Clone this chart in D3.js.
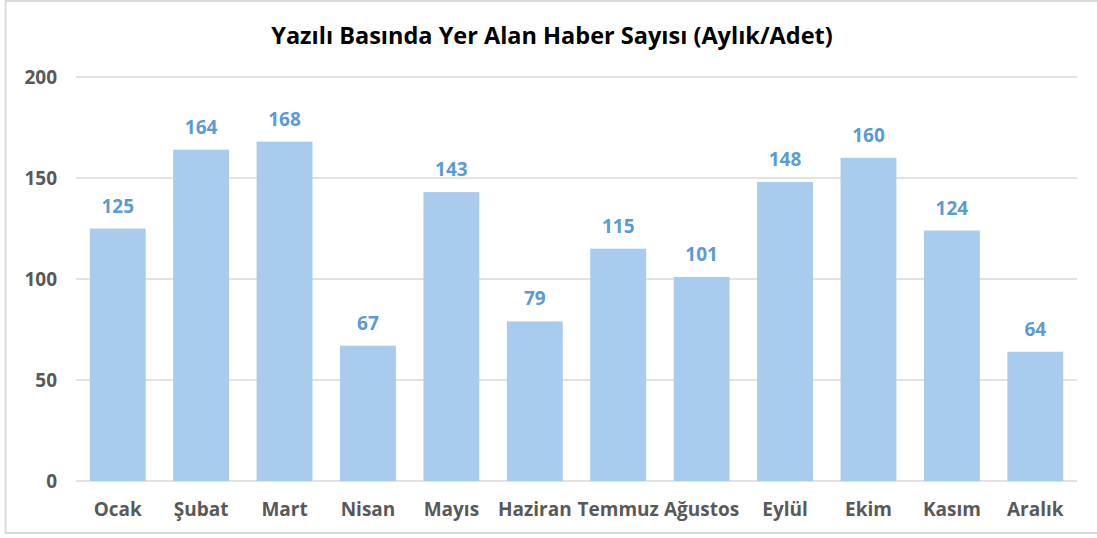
<!DOCTYPE html>
<html>
<head>
<meta charset="utf-8">
<script src="https://cdn.jsdelivr.net/npm/d3@7"></script>
<style>
  body { margin: 0; background: #fff; }
  svg { font-family: "Open Sans", "Noto Sans", sans-serif; }
</style>
</head>
<body>
<script>
var months = ["Ocak", "Şubat", "Mart", "Nisan", "Mayıs", "Haziran", "Temmuz", "Ağustos", "Eylül", "Ekim", "Kasım", "Aralık"];
var counts = [125, 164, 168, 67, 143, 79, 115, 101, 148, 160, 124, 64];
var yTicks = [0, 50, 100, 150, 200];

var width = 1097, height = 538;
var margin = { left: 76, right: 20, top: 77, bottom: 57 };

var svg = d3.select("body").append("svg")
    .attr("width", width)
    .attr("height", height);

// chart frame
svg.append("rect")
    .attr("x", 5.5).attr("y", 1)
    .attr("width", 1100).attr("height", 532)
    .attr("fill", "#fff")
    .attr("stroke", "#d9d9d9")
    .attr("stroke-width", 2);

var x = d3.scaleBand()
    .domain(months)
    .range([margin.left, width - margin.right])
    .paddingInner(0.33)
    .paddingOuter(0.165);

var y = d3.scaleLinear()
    .domain([0, 200])
    .range([height - margin.bottom, margin.top]);

// gridlines
svg.append("g")
    .selectAll("line")
    .data(yTicks)
    .enter().append("line")
    .attr("x1", margin.left)
    .attr("x2", width - margin.right)
    .attr("y1", d => y(d))
    .attr("y2", d => y(d))
    .attr("stroke", "#d9d9d9")
    .attr("stroke-width", 1.5);

// y axis labels
var yAxis = svg.append("g")
    .attr("transform", "translate(" + (margin.left - 19) + ",0)")
    .call(d3.axisLeft(y).tickValues(yTicks).tickSize(0).tickPadding(0));
yAxis.select(".domain").remove();
yAxis.selectAll("text")
    .attr("fill", "#595959")
    .attr("font-size", 19)
    .attr("font-weight", "bold")
    .attr("font-family", "'Open Sans', sans-serif");

// x axis labels
var xAxis = svg.append("g")
    .attr("transform", "translate(0," + (y(0) + 21) + ")")
    .call(d3.axisBottom(x).tickSize(0).tickPadding(0));
xAxis.select(".domain").remove();
xAxis.selectAll("text")
    .attr("fill", "#595959")
    .attr("font-size", 19)
    .attr("font-weight", "bold")
    .attr("font-family", "'Open Sans', sans-serif");

// bars
svg.append("g")
    .selectAll("rect")
    .data(counts)
    .enter().append("rect")
    .attr("x", (d, i) => x(months[i]))
    .attr("width", x.bandwidth())
    .attr("y", d => y(d))
    .attr("height", d => y(0) - y(d))
    .attr("fill", "#a9cbee");

// value labels
svg.append("g")
    .selectAll("text")
    .data(counts)
    .enter().append("text")
    .attr("x", (d, i) => x(months[i]) + x.bandwidth() / 2)
    .attr("y", d => y(d) - 16)
    .attr("text-anchor", "middle")
    .attr("fill", "#5b9bd5")
    .attr("font-size", 19)
    .attr("font-weight", "bold")
    .text(d => d);

// title
svg.append("text")
    .attr("x", 552)
    .attr("y", 44)
    .attr("text-anchor", "middle")
    .attr("fill", "#000")
    .attr("font-size", 23.5)
    .attr("font-weight", "bold")
    .text("Yazılı Basında Yer Alan Haber Sayısı (Aylık/Adet)");
</script>
</body>
</html>
